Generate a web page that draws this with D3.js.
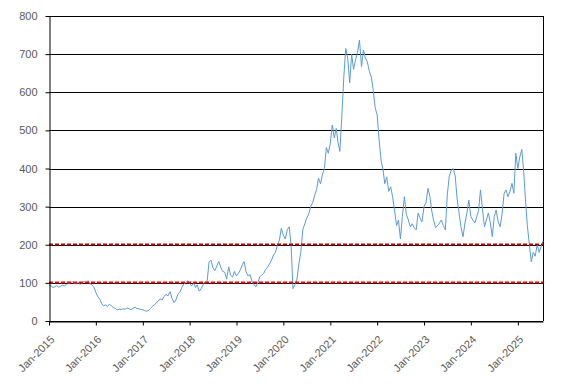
<!DOCTYPE html>
<html lang="en">
  <head>
    <meta charset="utf-8">
    <title>Price history</title>
    <script src="https://d3js.org/d3.v7.min.js"></script>
    <style>
      body { margin: 0; background: #fff; }
      .tick text { font-family: "Liberation Sans", Arial, sans-serif; font-size: 11px; fill: #595959; }
    </style>
  </head>
  <body>
    <script>
      // semi-monthly readings, 24 per year, starting Jan 2015
      const startYear = 2015;
      const v2015 = [95, 92, 88, 90, 93, 89, 91, 94, 92, 96, 98, 100, 103, 99, 97, 101, 96, 99, 104, 100, 106, 98, 95, 90];
      const v2016 = [75, 64, 57, 45, 40, 42, 38, 44, 40, 35, 33, 29, 31, 30, 32, 31, 34, 32, 30, 33, 36, 33, 32, 30];
      const v2017 = [30, 27, 26, 28, 33, 38, 42, 48, 52, 58, 55, 64, 70, 66, 77, 60, 48, 55, 70, 75, 88, 97, 100, 106];
      const v2018 = [98, 92, 100, 88, 95, 78, 85, 95, 103, 100, 155, 160, 140, 132, 145, 156, 140, 130, 128, 110, 142, 120, 115, 130];
      const v2019 = [118, 125, 135, 148, 156, 130, 118, 122, 105, 95, 90, 100, 116, 120, 125, 135, 142, 150, 160, 173, 180, 200, 212, 243];
      const v2020 = [225, 215, 240, 247, 200, 85, 95, 110, 150, 180, 240, 255, 270, 280, 300, 310, 330, 345, 375, 360, 385, 400, 455, 440];
      const v2021 = [466, 514, 480, 505, 470, 445, 540, 640, 715, 690, 625, 700, 660, 684, 705, 737, 667, 711, 690, 680, 655, 640, 606, 560];
      const v2022 = [540, 475, 420, 396, 360, 378, 340, 352, 326, 291, 250, 265, 215, 274, 326, 280, 265, 247, 255, 245, 239, 283, 270, 260];
      const v2023 = [300, 310, 348, 326, 291, 265, 245, 250, 257, 265, 250, 239, 330, 378, 396, 400, 380, 320, 283, 247, 221, 257, 283, 317];
      const v2024 = [274, 265, 257, 274, 290, 344, 291, 247, 265, 283, 257, 221, 274, 291, 260, 247, 283, 335, 344, 326, 340, 361, 335, 440];
      const v2025 = [400, 430, 450, 390, 320, 250, 200, 155, 180, 170, 200, 180, 195, 210];
      const yTicks = [0, 100, 200, 300, 400, 500, 600, 700, 800];
      const refLines = [{ value: 100, color: "#ff0000" }, { value: 200, color: "#c00000" }];

      const values = [].concat(v2015, v2016, v2017, v2018, v2019, v2020, v2021, v2022, v2023, v2024, v2025);
      const data = values.map((v, i) => {
        const yr = startYear + Math.floor(i / 24);
        const half = i % 24;
        return { date: new Date(yr, Math.floor(half / 2), half % 2 ? 16 : 1), value: v };
      });

      const width = 571, height = 385;
      const plotLeft = 49, plotRight = 543, plotTop = 16, plotBottom = 321;

      const svg = d3.select("body").append("svg")
        .attr("width", width)
        .attr("height", height);

      const x = d3.scaleTime()
        .domain([new Date(2015, 0, 1), data[data.length - 1].date])
        .range([plotLeft, plotRight]);
      const y = d3.scaleLinear().domain([0, 800]).range([plotBottom, plotTop]);

      // gridlines
      svg.append("g").selectAll("line").data(yTicks).enter().append("line")
        .attr("x1", plotLeft).attr("x2", plotRight)
        .attr("y1", d => Math.round(y(d)) + 0.5).attr("y2", d => Math.round(y(d)) + 0.5)
        .attr("stroke", "#000").attr("stroke-width", 1);

      // right border
      svg.append("line")
        .attr("x1", plotRight + 0.5).attr("x2", plotRight + 0.5)
        .attr("y1", plotTop).attr("y2", plotBottom)
        .attr("stroke", "#000");

      const line = d3.line().x(d => x(d.date)).y(d => y(d.value));
      svg.append("path").datum(data)
        .attr("d", line)
        .attr("fill", "none")
        .attr("stroke", "#5b9bd5")
        .attr("stroke-width", 1);

      svg.append("g").selectAll("line").data(refLines).enter().append("line")
        .attr("x1", plotLeft).attr("x2", plotRight)
        .attr("y1", d => Math.round(y(d.value)) - 0.5).attr("y2", d => Math.round(y(d.value)) - 0.5)
        .attr("stroke", d => d.color)
        .attr("stroke-width", 2)
        .attr("stroke-dasharray", "4,2");

      // axes
      const yAxis = svg.append("g")
        .attr("transform", `translate(${plotLeft + 0.5},0)`)
        .call(d3.axisLeft(y).tickValues(yTicks).tickSize(4).tickPadding(8).tickSizeOuter(0));
      yAxis.selectAll("line, path").attr("stroke", "#000");

      const xAxis = svg.append("g")
        .attr("transform", `translate(0,${Math.round(plotBottom) + 0.5})`)
        .call(d3.axisBottom(x).ticks(d3.timeYear.every(1)).tickFormat(d3.timeFormat("%b-%Y")).tickSize(4).tickSizeOuter(0));
      xAxis.selectAll("line, path").attr("stroke", "#000");
      xAxis.selectAll("text")
        .attr("x", 0)
        .attr("y", 0)
        .attr("dy", "0.35em")
        .attr("text-anchor", "end")
        .attr("transform", "translate(3,16) rotate(-45)");
    </script>
  </body>
</html>
